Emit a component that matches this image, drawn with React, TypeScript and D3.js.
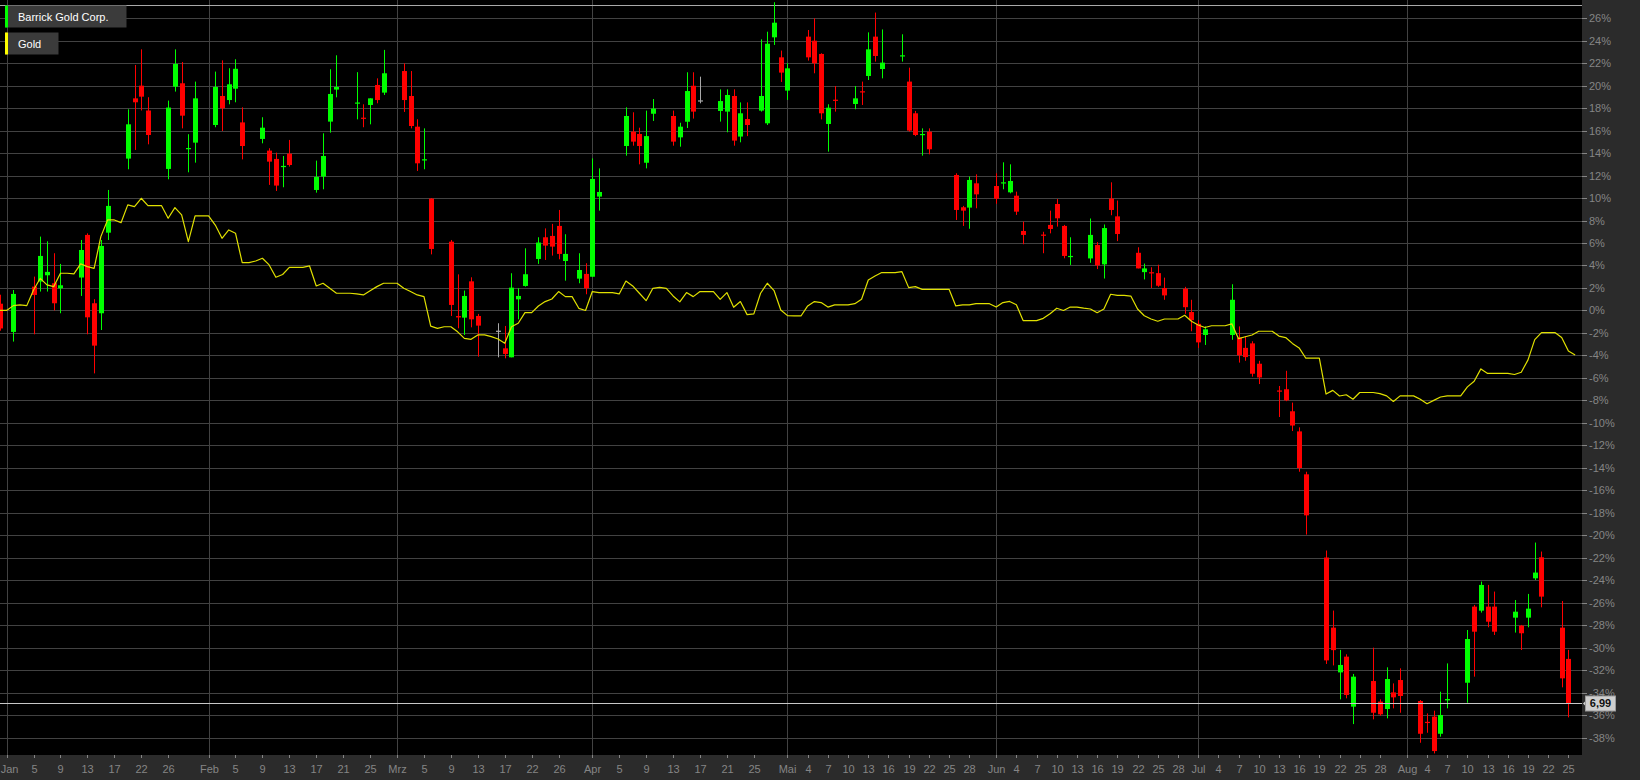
import React from "react";
import * as d3 from "d3";

// ---------- data ----------
const axisStart = "2014-12-31";
const axisEnd = "2015-08-27";
const droppedDays = ["2015-01-19", "2015-03-21", "2015-03-29", "2015-04-26"];
const monthLabels = ["Jan", "Feb", "Mrz", "Apr", "Mai", "Jun", "Jul", "Aug", "Sep", "Okt", "Nov", "Dez"];

const tickDates = [
  "2015-01-01", "2015-01-05", "2015-01-09", "2015-01-13", "2015-01-17", "2015-01-22", "2015-01-26",
  "2015-02-01", "2015-02-05", "2015-02-09", "2015-02-13", "2015-02-17", "2015-02-21", "2015-02-25",
  "2015-03-01", "2015-03-05", "2015-03-09", "2015-03-13", "2015-03-17", "2015-03-22", "2015-03-26",
  "2015-04-01", "2015-04-05", "2015-04-09", "2015-04-13", "2015-04-17", "2015-04-21", "2015-04-25",
  "2015-05-01", "2015-05-04", "2015-05-07", "2015-05-10", "2015-05-13", "2015-05-16", "2015-05-19", "2015-05-22", "2015-05-25", "2015-05-28",
  "2015-06-01", "2015-06-04", "2015-06-07", "2015-06-10", "2015-06-13", "2015-06-16", "2015-06-19", "2015-06-22", "2015-06-25", "2015-06-28",
  "2015-07-01", "2015-07-04", "2015-07-07", "2015-07-10", "2015-07-13", "2015-07-16", "2015-07-19", "2015-07-22", "2015-07-25", "2015-07-28",
  "2015-08-01", "2015-08-04", "2015-08-07", "2015-08-10", "2015-08-13", "2015-08-16", "2015-08-19", "2015-08-22", "2015-08-25",
];

const yTickValues = [-38, -36, -34, -32, -30, -28, -26, -24, -22, -20, -18, -16, -14, -12, -10, -8, -6, -4, -2, 0, 2, 4, 6, 8, 10, 12, 14, 16, 18, 20, 22, 24, 26];

const seriesNames = ["Barrick Gold Corp.", "Gold"];
const lastPriceLabel = "6,99";

// Barrick Gold Corp.: date, open, high, low, close (% change)
const barrick: [string, number, number, number, number][] = [
  ["2014-12-31", 0.6, 1.4, -1.8, -1.6],
  ["2015-01-02", -1.91, 1.82, -2.77, 1.47],
  ["2015-01-05", 2.12, 3.01, -2.12, 1.38],
  ["2015-01-06", 2.57, 6.57, 1.68, 4.85],
  ["2015-01-07", 3.13, 6.15, 1.68, 3.43],
  ["2015-01-08", 2.42, 5.09, 0.0, 0.64],
  ["2015-01-09", 1.97, 4.14, -0.25, 2.24],
  ["2015-01-12", 2.93, 6.27, 1.29, 5.38],
  ["2015-01-13", 6.72, 6.86, -2.12, -0.61],
  ["2015-01-14", 0.64, 1.0, -5.6, -3.13],
  ["2015-01-15", -0.25, 6.27, -1.74, 5.74],
  ["2015-01-16", 6.92, 10.72, 6.27, 9.3],
  ["2015-01-20", 13.51, 17.9, 12.56, 16.56],
  ["2015-01-21", 18.87, 21.84, 14.28, 18.52],
  ["2015-01-22", 20.0, 23.23, 17.79, 19.02],
  ["2015-01-23", 17.79, 18.97, 14.78, 15.61],
  ["2015-01-26", 12.59, 18.67, 11.67, 18.05],
  ["2015-01-27", 19.91, 23.23, 19.47, 21.93],
  ["2015-01-28", 20.21, 22.1, 16.2, 17.33],
  ["2015-01-29", 14.35, 15.68, 12.29, 14.45],
  ["2015-01-30", 14.93, 20.36, 13.15, 18.87],
  ["2015-02-02", 16.5, 21.25, 16.3, 19.88],
  ["2015-02-03", 19.08, 22.25, 15.97, 17.99],
  ["2015-02-04", 18.72, 21.55, 18.34, 20.12],
  ["2015-02-05", 19.73, 22.35, 18.52, 21.5],
  ["2015-02-06", 16.73, 18.07, 13.44, 14.63],
  ["2015-02-09", 15.26, 17.19, 14.87, 16.26],
  ["2015-02-10", 14.22, 14.43, 11.17, 13.24],
  ["2015-02-11", 13.48, 14.04, 10.63, 11.11],
  ["2015-02-12", 12.77, 13.74, 10.96, 12.86],
  ["2015-02-13", 13.95, 15.17, 12.8, 12.94],
  ["2015-02-17", 10.72, 13.33, 10.48, 11.88],
  ["2015-02-18", 11.91, 15.76, 10.78, 13.74],
  ["2015-02-19", 16.8, 21.46, 15.82, 19.26],
  ["2015-02-20", 19.65, 22.7, 18.96, 19.88],
  ["2015-02-23", 18.4, 21.2, 17.0, 18.5],
  ["2015-02-24", 17.15, 18.34, 16.3, 17.1],
  ["2015-02-25", 18.28, 18.87, 16.56, 18.87],
  ["2015-02-26", 20.06, 20.65, 18.43, 18.72],
  ["2015-02-27", 19.38, 23.18, 19.17, 21.1],
  ["2015-03-02", 21.3, 21.98, 17.66, 18.72],
  ["2015-03-03", 19.08, 21.3, 16.2, 16.41],
  ["2015-03-04", 16.35, 17.01, 12.41, 13.09],
  ["2015-03-05", 13.36, 16.2, 12.56, 13.45],
  ["2015-03-06", 9.95, 10.0, 4.99, 5.47],
  ["2015-03-09", 6.12, 6.27, -0.49, 0.49],
  ["2015-03-10", -0.5, 3.21, -1.59, -0.62],
  ["2015-03-11", -0.64, 1.77, -2.18, 1.29],
  ["2015-03-12", 2.59, 2.95, -1.5, -0.79],
  ["2015-03-13", -0.49, -0.31, -4.11, -1.35],
  ["2015-03-16", -1.8, -1.14, -4.17, -1.8],
  ["2015-03-17", -3.37, -1.38, -4.26, -3.87],
  ["2015-03-18", -4.17, 3.31, -4.17, 2.03],
  ["2015-03-19", 0.99, 1.98, -0.79, 1.29],
  ["2015-03-20", 2.18, 5.53, 2.12, 3.22],
  ["2015-03-23", 4.58, 6.51, 4.14, 6.04],
  ["2015-03-24", 6.51, 7.3, 4.49, 5.77],
  ["2015-03-25", 6.63, 7.7, 4.88, 5.68],
  ["2015-03-26", 7.52, 8.94, 4.55, 5.03],
  ["2015-03-27", 4.4, 6.78, 2.65, 5.03],
  ["2015-03-30", 2.83, 5.09, 2.42, 3.6],
  ["2015-03-31", 3.25, 4.2, 1.44, 1.97],
  ["2015-04-01", 3.0, 13.53, 3.0, 11.7],
  ["2015-04-02", 10.13, 12.64, 8.88, 10.54],
  ["2015-04-06", 14.63, 18.07, 13.77, 17.3],
  ["2015-04-07", 15.91, 17.63, 14.66, 15.02],
  ["2015-04-08", 15.7, 16.26, 13.0, 14.63],
  ["2015-04-09", 13.14, 17.78, 12.64, 15.51],
  ["2015-04-10", 17.5, 18.81, 16.86, 17.96],
  ["2015-04-13", 17.3, 17.78, 14.66, 15.02],
  ["2015-04-14", 15.4, 16.7, 14.57, 16.35],
  ["2015-04-15", 16.79, 21.19, 16.23, 19.52],
  ["2015-04-16", 19.99, 21.19, 17.07, 17.69],
  ["2015-04-17", 18.69, 20.8, 18.43, 18.69],
  ["2015-04-20", 17.75, 19.67, 16.8, 18.63],
  ["2015-04-21", 17.69, 19.67, 15.85, 19.17],
  ["2015-04-22", 19.08, 19.67, 14.66, 15.11],
  ["2015-04-23", 15.47, 18.51, 14.96, 17.54],
  ["2015-04-24", 17.03, 18.51, 15.51, 16.5],
  ["2015-04-27", 17.78, 24.12, 17.69, 19.08],
  ["2015-04-28", 16.65, 24.8, 16.5, 23.73],
  ["2015-04-29", 24.3, 27.42, 23.62, 25.6],
  ["2015-04-30", 22.52, 23.12, 20.33, 21.16],
  ["2015-05-01", 19.56, 21.99, 18.73, 21.54],
  ["2015-05-04", 24.36, 24.95, 22.23, 22.52],
  ["2015-05-05", 24.0, 25.99, 21.1, 21.99],
  ["2015-05-06", 22.82, 22.88, 17.0, 17.54],
  ["2015-05-07", 16.59, 18.34, 14.13, 18.04],
  ["2015-05-08", 18.75, 19.97, 17.69, 18.65],
  ["2015-05-11", 18.37, 19.97, 17.9, 18.87],
  ["2015-05-12", 19.5, 20.36, 18.28, 19.4],
  ["2015-05-13", 20.86, 24.74, 20.5, 23.23],
  ["2015-05-14", 24.36, 26.5, 22.14, 22.64],
  ["2015-05-15", 21.48, 25.0, 20.65, 22.05],
  ["2015-05-18", 22.6, 24.57, 22.14, 22.7],
  ["2015-05-19", 20.36, 21.6, 15.91, 16.0],
  ["2015-05-20", 17.54, 17.75, 15.51, 15.61],
  ["2015-05-21", 15.6, 16.2, 13.77, 15.7],
  ["2015-05-22", 15.91, 16.2, 13.89, 14.34],
  ["2015-05-26", 12.05, 12.2, 8.05, 8.94],
  ["2015-05-27", 9.18, 9.3, 7.52, 8.88],
  ["2015-05-28", 9.15, 11.91, 7.27, 11.61],
  ["2015-05-29", 11.31, 12.11, 9.09, 10.33],
  ["2015-06-01", 11.07, 12.2, 9.49, 9.94],
  ["2015-06-02", 11.3, 13.18, 10.78, 11.4],
  ["2015-06-03", 10.51, 13.0, 10.42, 11.52],
  ["2015-06-04", 10.21, 10.57, 8.5, 8.79],
  ["2015-06-05", 7.07, 7.9, 5.89, 6.72],
  ["2015-06-08", 6.75, 7.0, 5.09, 6.65],
  ["2015-06-09", 7.61, 8.88, 6.86, 7.25],
  ["2015-06-10", 9.47, 9.91, 7.46, 8.2],
  ["2015-06-11", 7.52, 7.61, 4.64, 4.85],
  ["2015-06-12", 4.75, 6.51, 4.05, 4.85],
  ["2015-06-15", 4.63, 8.18, 4.24, 6.72],
  ["2015-06-16", 5.82, 6.08, 3.68, 4.01],
  ["2015-06-17", 4.1, 7.65, 2.84, 7.33],
  ["2015-06-18", 9.95, 11.4, 8.47, 8.94],
  ["2015-06-19", 8.37, 9.78, 6.17, 6.8],
  ["2015-06-22", 5.13, 5.62, 3.74, 3.74],
  ["2015-06-23", 3.41, 4.17, 2.76, 3.74],
  ["2015-06-24", 3.4, 3.84, 2.0, 3.35],
  ["2015-06-25", 3.32, 4.07, 2.1, 2.2],
  ["2015-06-26", 2.0, 2.92, 0.95, 1.34],
  ["2015-06-29", 1.93, 2.1, -0.3, 0.29],
  ["2015-06-30", -0.14, 0.95, -1.85, -0.86],
  ["2015-07-01", -1.19, -0.86, -3.33, -2.84],
  ["2015-07-02", -2.18, -1.42, -3.07, -1.68],
  ["2015-07-06", -2.18, 2.33, -2.61, 0.95],
  ["2015-07-07", -2.41, -1.42, -4.64, -3.99],
  ["2015-07-08", -3.33, -2.28, -4.48, -4.15],
  ["2015-07-09", -2.93, -2.74, -5.89, -5.63],
  ["2015-07-10", -4.74, -4.48, -6.55, -5.96],
  ["2015-07-13", -7.12, -6.72, -9.48, -7.2],
  ["2015-07-14", -7.01, -5.37, -8.07, -8.0],
  ["2015-07-15", -8.97, -8.2, -10.73, -10.24],
  ["2015-07-16", -10.76, -10.4, -14.35, -14.02],
  ["2015-07-17", -14.58, -14.35, -19.94, -18.23],
  ["2015-07-20", -21.98, -21.36, -31.45, -31.13],
  ["2015-07-21", -28.22, -26.7, -31.58, -30.22],
  ["2015-07-22", -32.2, -30.2, -34.6, -31.54],
  ["2015-07-23", -30.8, -30.59, -34.51, -34.21],
  ["2015-07-24", -35.25, -32.34, -36.8, -32.58],
  ["2015-07-27", -32.97, -30.0, -36.38, -35.79],
  ["2015-07-28", -34.8, -34.6, -36.05, -35.93],
  ["2015-07-29", -35.46, -31.75, -36.29, -32.79],
  ["2015-07-30", -33.98, -33.18, -35.4, -34.42],
  ["2015-07-31", -32.88, -31.84, -35.79, -34.3],
  ["2015-08-03", -34.75, -34.66, -38.46, -37.66],
  ["2015-08-04", -36.6, -35.85, -37.57, -36.7],
  ["2015-08-05", -36.14, -35.61, -39.41, -39.2],
  ["2015-08-06", -37.66, -33.92, -37.92, -35.99],
  ["2015-08-07", -34.69, -31.4, -35.4, -34.57],
  ["2015-08-10", -33.12, -28.43, -34.9, -29.23],
  ["2015-08-11", -26.35, -26.2, -32.58, -28.58],
  ["2015-08-12", -26.71, -24.12, -26.88, -24.42],
  ["2015-08-13", -26.35, -24.42, -28.19, -27.69],
  ["2015-08-14", -26.35, -25.01, -28.87, -28.58],
  ["2015-08-17", -27.33, -25.76, -28.66, -26.8],
  ["2015-08-18", -28.04, -27.98, -30.21, -28.72],
  ["2015-08-19", -27.33, -25.22, -28.19, -26.53],
  ["2015-08-20", -23.83, -20.65, -23.98, -23.32],
  ["2015-08-21", -21.96, -21.45, -26.41, -25.46],
  ["2015-08-24", -28.22, -25.85, -33.53, -32.73],
  ["2015-08-25", -31.0, -30.2, -36.2, -34.95],
];

// Gold: date, % change
const gold: [string, number][] = [
  ["2014-12-31", 0.0], ["2015-01-01", 0.0], ["2015-01-02", 0.43], ["2015-01-03", 0.49], ["2015-01-04", 0.43],
  ["2015-01-05", 1.82], ["2015-01-06", 2.86], ["2015-01-07", 2.27], ["2015-01-08", 2.12], ["2015-01-09", 3.31], ["2015-01-10", 3.31], ["2015-01-11", 3.25],
  ["2015-01-12", 4.14], ["2015-01-13", 3.9], ["2015-01-14", 3.75], ["2015-01-15", 6.57], ["2015-01-16", 8.05], ["2015-01-17", 8.05], ["2015-01-18", 7.81],
  ["2015-01-20", 9.39], ["2015-01-21", 9.24], ["2015-01-22", 9.98], ["2015-01-23", 9.33], ["2015-01-24", 9.33], ["2015-01-25", 9.33],
  ["2015-01-26", 8.2], ["2015-01-27", 9.15], ["2015-01-28", 8.5], ["2015-01-29", 6.12], ["2015-01-30", 8.41], ["2015-01-31", 8.41], ["2015-02-01", 8.41],
  ["2015-02-02", 7.6], ["2015-02-03", 6.42], ["2015-02-04", 7.16], ["2015-02-05", 6.87], ["2015-02-06", 4.26], ["2015-02-07", 4.26], ["2015-02-08", 4.4],
  ["2015-02-09", 4.64], ["2015-02-10", 4.05], ["2015-02-11", 2.95], ["2015-02-12", 3.2], ["2015-02-13", 3.84], ["2015-02-14", 3.84], ["2015-02-15", 3.84],
  ["2015-02-16", 3.96], ["2015-02-17", 2.18], ["2015-02-18", 2.42], ["2015-02-19", 1.97], ["2015-02-20", 1.53], ["2015-02-21", 1.53], ["2015-02-22", 1.53],
  ["2015-02-23", 1.47], ["2015-02-24", 1.38], ["2015-02-25", 1.76], ["2015-02-26", 2.12], ["2015-02-27", 2.42], ["2015-02-28", 2.42], ["2015-03-01", 2.42],
  ["2015-03-02", 1.97], ["2015-03-03", 1.68], ["2015-03-04", 1.38], ["2015-03-05", 1.23], ["2015-03-06", -1.39], ["2015-03-07", -1.59], ["2015-03-08", -1.45],
  ["2015-03-09", -1.45], ["2015-03-10", -1.9], ["2015-03-11", -2.48], ["2015-03-12", -2.57], ["2015-03-13", -2.18], ["2015-03-14", -2.18], ["2015-03-15", -2.33],
  ["2015-03-16", -2.54], ["2015-03-17", -2.92], ["2015-03-18", -1.45], ["2015-03-19", -1.14], ["2015-03-20", -0.19], ["2015-03-22", -0.19],
  ["2015-03-23", 0.4], ["2015-03-24", 0.79], ["2015-03-25", 1.02], ["2015-03-26", 1.68], ["2015-03-27", 1.23], ["2015-03-28", 1.23],
  ["2015-03-30", 0.19], ["2015-03-31", 0.0], ["2015-04-01", 1.68], ["2015-04-02", 1.59], ["2015-04-03", 1.59], ["2015-04-04", 1.59], ["2015-04-05", 1.47],
  ["2015-04-06", 2.62], ["2015-04-07", 2.18], ["2015-04-08", 1.53], ["2015-04-09", 0.87], ["2015-04-10", 1.97], ["2015-04-11", 2.06], ["2015-04-12", 1.97],
  ["2015-04-13", 1.29], ["2015-04-14", 0.76], ["2015-04-15", 1.59], ["2015-04-16", 1.23], ["2015-04-17", 1.68], ["2015-04-18", 1.68], ["2015-04-19", 1.68],
  ["2015-04-20", 0.99], ["2015-04-21", 1.59], ["2015-04-22", 0.28], ["2015-04-23", 0.79], ["2015-04-24", -0.37], ["2015-04-25", -0.31],
  ["2015-04-27", 1.53], ["2015-04-28", 2.42], ["2015-04-29", 1.77], ["2015-04-30", 0.04], ["2015-05-01", -0.46], ["2015-05-02", -0.49], ["2015-05-03", -0.49],
  ["2015-05-04", 0.4], ["2015-05-05", 0.79], ["2015-05-06", 0.7], ["2015-05-07", 0.3], ["2015-05-08", 0.5], ["2015-05-09", 0.5], ["2015-05-10", 0.5],
  ["2015-05-11", 0.6], ["2015-05-12", 1.0], ["2015-05-13", 2.71], ["2015-05-14", 3.07], ["2015-05-15", 3.37], ["2015-05-16", 3.37], ["2015-05-17", 3.37],
  ["2015-05-18", 3.45], ["2015-05-19", 2.03], ["2015-05-20", 2.12], ["2015-05-21", 1.88], ["2015-05-22", 1.88], ["2015-05-23", 1.88], ["2015-05-24", 1.88],
  ["2015-05-25", 1.88], ["2015-05-26", 0.4], ["2015-05-27", 0.5], ["2015-05-28", 0.5], ["2015-05-29", 0.6], ["2015-05-30", 0.6], ["2015-05-31", 0.6],
  ["2015-06-01", 0.3], ["2015-06-02", 0.7], ["2015-06-03", 0.8], ["2015-06-04", 0.5], ["2015-06-05", -0.9], ["2015-06-06", -0.9], ["2015-06-07", -0.9],
  ["2015-06-08", -0.7], ["2015-06-09", -0.3], ["2015-06-10", 0.2], ["2015-06-11", 0.0], ["2015-06-12", 0.3], ["2015-06-13", 0.3], ["2015-06-14", 0.2],
  ["2015-06-15", 0.13], ["2015-06-16", -0.2], ["2015-06-17", 0.13], ["2015-06-18", 1.44], ["2015-06-19", 1.34], ["2015-06-20", 1.34], ["2015-06-21", 1.28],
  ["2015-06-22", 0.13], ["2015-06-23", -0.47], ["2015-06-24", -0.76], ["2015-06-25", -0.96], ["2015-06-26", -0.76], ["2015-06-27", -0.76], ["2015-06-28", -0.76],
  ["2015-06-29", -0.43], ["2015-06-30", -0.96], ["2015-07-01", -1.29], ["2015-07-02", -1.52], ["2015-07-03", -1.36], ["2015-07-04", -1.36], ["2015-07-05", -1.36],
  ["2015-07-06", -1.19], ["2015-07-07", -2.51], ["2015-07-08", -2.34], ["2015-07-09", -2.18], ["2015-07-10", -1.85], ["2015-07-11", -1.85], ["2015-07-12", -1.85],
  ["2015-07-13", -2.28], ["2015-07-14", -2.41], ["2015-07-15", -2.93], ["2015-07-16", -3.33], ["2015-07-17", -4.25], ["2015-07-18", -4.25], ["2015-07-19", -4.25],
  ["2015-07-20", -7.44], ["2015-07-21", -7.11], ["2015-07-22", -7.61], ["2015-07-23", -7.5], ["2015-07-24", -7.9], ["2015-07-25", -7.3], ["2015-07-26", -7.3],
  ["2015-07-27", -7.3], ["2015-07-28", -7.4], ["2015-07-29", -7.6], ["2015-07-30", -8.1], ["2015-07-31", -7.6], ["2015-08-01", -7.6], ["2015-08-02", -7.6],
  ["2015-08-03", -7.9], ["2015-08-04", -8.3], ["2015-08-05", -8.0], ["2015-08-06", -7.7], ["2015-08-07", -7.6], ["2015-08-08", -7.6], ["2015-08-09", -7.6],
  ["2015-08-10", -6.8], ["2015-08-11", -6.3], ["2015-08-12", -5.2], ["2015-08-13", -5.6], ["2015-08-14", -5.6], ["2015-08-15", -5.6], ["2015-08-16", -5.6],
  ["2015-08-17", -5.7], ["2015-08-18", -5.5], ["2015-08-19", -4.4], ["2015-08-20", -2.6], ["2015-08-21", -1.97], ["2015-08-22", -1.97], ["2015-08-23", -1.97],
  ["2015-08-24", -2.4], ["2015-08-25", -3.6], ["2015-08-26", -3.96],
];

// ---------- layout ----------
const W = 1640;
const H = 780;
const PLOT_R = 1582;
const PLOT_B = 755;
const FONT = "'Liberation Sans', Arial, sans-serif";
const C_BG = "#000000";
const C_PANEL = "#2b2b2b";
const C_GRID = "#424242";
const C_AXIS_TEXT = "#858585";
const C_UP = "#00ff00";
const C_DOWN = "#ff0000";
const C_FLAT = "#a8a8a8";
const C_GOLD = "#e0e000";

export default function App() {
  const parse = d3.timeParse("%Y-%m-%d");
  const fmt = d3.timeFormat("%Y-%m-%d");
  const dropped = new Set(droppedDays);
  const axisDates = d3.timeDay
    .range(parse(axisStart)!, d3.timeDay.offset(parse(axisEnd)!, 1))
    .map((d) => fmt(d))
    .filter((d) => !dropped.has(d));
  const idx = new Map(axisDates.map((d, i) => [d, i] as [string, number]));

  const x = d3.scaleLinear().domain([0.02, axisDates.length - 1 + 0.02]).range([0, PLOT_R]);
  const y = d3.scaleLinear().domain([-39.55, 27.62]).range([PLOT_B, 0]);
  const xi = (d: string) => x(idx.get(d) ?? 0);

  const goldLine = d3
    .line<[string, number]>()
    .x((d) => xi(d[0]))
    .y((d) => y(d[1]))(gold);

  const monthStarts = tickDates.filter((d) => d.endsWith("-01"));
  const lastClose = barrick[barrick.length - 1][4];
  const yLast = Math.round(y(lastClose)) + 0.5;

  const tickLabel = (d: string) => {
    const dt = parse(d)!;
    return dt.getDate() === 1 ? monthLabels[dt.getMonth()] : String(dt.getDate());
  };

  return (
    <svg
      width={W}
      height={H}
      style={{ position: "absolute", left: 0, top: 0, display: "block" }}
      fontFamily={FONT}
    >
      <defs>
        <clipPath id="plotClip">
          <rect x={0} y={0} width={PLOT_R} height={PLOT_B} />
        </clipPath>
      </defs>
      <rect x={0} y={0} width={W} height={H} fill={C_PANEL} />
      <rect x={0} y={0} width={PLOT_R} height={PLOT_B} fill={C_BG} />

      {/* horizontal grid */}
      {yTickValues.map((v) => {
        const yy = Math.round(y(v)) + 0.5;
        return (
          <g key={"gy" + v}>
            <line x1={0} x2={PLOT_R} y1={yy} y2={yy} stroke={C_GRID} strokeWidth={1} />
            <line x1={PLOT_R} x2={PLOT_R + 5} y1={yy} y2={yy} stroke={C_AXIS_TEXT} strokeWidth={1} />
            <text x={PLOT_R + 7} y={yy} dy="0.35em" fontSize={11} fill={C_AXIS_TEXT}>
              {v + "%"}
            </text>
          </g>
        );
      })}

      {/* vertical month grid */}
      {monthStarts.map((d) => {
        const xx = Math.round(xi(d)) + 0.5;
        return <line key={"gx" + d} x1={xx} x2={xx} y1={0} y2={PLOT_B} stroke={C_GRID} strokeWidth={1} />;
      })}

      {/* top line */}
      <line x1={0} x2={PLOT_R} y1={5.5} y2={5.5} stroke="#a9a9a9" strokeWidth={1} />

      {/* x axis ticks and labels */}
      {tickDates.map((d) => {
        const xx = Math.round(xi(d)) + 0.5;
        const label = tickLabel(d);
        const lx = Math.max(xx, label.length * 3.2);
        return (
          <g key={"tx" + d}>
            <line x1={xx} x2={xx} y1={PLOT_B} y2={PLOT_B + 3} stroke={C_AXIS_TEXT} strokeWidth={1} />
            <text x={lx} y={PLOT_B + 18} textAnchor="middle" fontSize={11} fill={C_AXIS_TEXT}>
              {label}
            </text>
          </g>
        );
      })}

      <g clipPath="url(#plotClip)">
        {/* candles */}
        {barrick.map(([d, o, h, l, c]) => {
          const cx = Math.round(xi(d));
          const col = c > o ? C_UP : c < o ? C_DOWN : C_FLAT;
          const top = y(Math.max(o, c));
          const bot = y(Math.min(o, c));
          return (
            <g key={"c" + d}>
              <line x1={cx + 0.5} x2={cx + 0.5} y1={y(h)} y2={y(l)} stroke={col} strokeWidth={1} />
              <rect x={cx - 2} y={top} width={5} height={Math.max(1.2, bot - top)} fill={col} />
            </g>
          );
        })}

        {/* gold line */}
        <path d={goldLine ?? ""} fill="none" stroke={C_GOLD} strokeWidth={1.2} strokeLinejoin="round" />

        {/* last price line */}
        <line x1={0} x2={PLOT_R} y1={yLast} y2={yLast} stroke="#c8c8c8" strokeWidth={1} />
      </g>

      {/* last price tag */}
      <path
        d={`M${PLOT_R + 1},${yLast} L${PLOT_R + 4},${yLast - 3} L${PLOT_R + 4},${yLast + 3} Z`}
        fill="#cfcfcf"
      />
      <rect x={PLOT_R + 3.5} y={yLast - 7.5} width={30} height={15} fill="#cfcfcf" stroke="#9a9a9a" strokeWidth={1} />
      <text x={PLOT_R + 18.5} y={yLast} dy="0.36em" textAnchor="middle" fontSize={11} fontWeight="bold" fill="#111">
        {lastPriceLabel}
      </text>

      {/* legend */}
      {seriesNames.map((name, i) => {
        const by = 5.5 + i * 27;
        const bw = i === 0 ? 121 : 53;
        return (
          <g key={"lg" + i}>
            <rect x={5.5} y={by} width={bw} height={22} fill="#3b3b3b" />
            <rect x={5} y={by} width={3} height={22} fill={i === 0 ? C_UP : "#ffff00"} />
            <text x={18} y={by + 15.5} fontSize={11} fill="#ffffff">
              {name}
            </text>
          </g>
        );
      })}
    </svg>
  );
}
